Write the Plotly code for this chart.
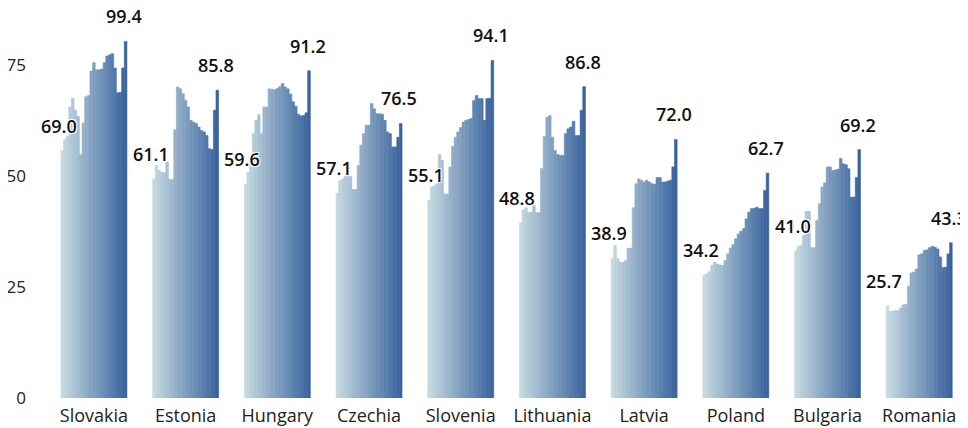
# bar profile per country, one bar per year, with start / end values labelled
import plotly.graph_objects as go

countries = ["Slovakia", "Estonia", "Hungary", "Czechia", "Slovenia",
             "Lithuania", "Latvia", "Poland", "Bulgaria", "Romania"]

# bar heights (25 yearly values per country)
slovakia = [55.8, 58.3, 59.0, 65.6, 67.6, 64.9, 63.5, 54.9, 62.0, 67.9, 68.2, 73.7, 75.6,
            74.0, 74.0, 74.2, 75.6, 77.1, 77.4, 77.6, 74.4, 68.8, 68.9, 74.4, 80.4]
estonia = [49.4, 52.4, 51.3, 50.9, 50.8, 53.2, 49.3, 49.3, 60.5, 70.1, 69.7, 68.6, 67.1,
           65.6, 62.6, 62.2, 61.9, 61.1, 60.3, 60.0, 59.2, 56.2, 56.0, 64.9, 69.4]
hungary = [48.2, 50.9, 52.8, 59.6, 62.6, 63.9, 59.6, 65.6, 65.6, 69.7, 69.6, 69.5, 69.8,
           70.2, 70.9, 70.1, 69.7, 68.5, 66.8, 65.8, 64.0, 63.6, 63.7, 64.3, 73.8]
czechia = [46.2, 49.0, 49.4, 50.0, 50.0, 50.0, 47.0, 47.0, 52.4, 57.0, 59.6, 61.5, 61.5,
           66.4, 65.2, 64.1, 64.1, 64.0, 62.6, 60.0, 59.6, 56.6, 56.6, 58.8, 61.9]
slovenia = [44.6, 47.6, 47.8, 48.3, 54.9, 53.6, 46.0, 46.0, 52.1, 56.7, 58.8, 60.0, 61.0,
            62.2, 62.6, 62.8, 63.0, 67.1, 68.2, 67.5, 67.5, 62.6, 67.5, 67.6, 76.1]
lithuania = [39.5, 42.4, 42.9, 41.9, 41.9, 43.4, 41.8, 41.8, 51.7, 59.0, 63.3, 63.7, 58.8,
             55.8, 54.9, 54.7, 54.7, 59.6, 60.7, 61.1, 62.4, 59.2, 59.2, 64.9, 70.2]
latvia = [31.5, 34.4, 31.4, 30.6, 30.6, 31.0, 33.7, 33.8, 42.9, 48.3, 49.4, 49.1, 48.7,
          49.1, 48.7, 48.3, 48.2, 49.7, 49.7, 48.7, 48.7, 48.9, 49.1, 52.1, 58.3]
poland = [27.7, 28.0, 28.5, 29.9, 30.6, 30.2, 30.0, 29.9, 31.0, 32.5, 33.8, 34.6, 35.9,
          37.0, 37.6, 38.2, 40.4, 41.9, 42.7, 42.8, 43.0, 42.7, 42.7, 46.8, 50.7]
bulgaria = [33.2, 34.2, 34.4, 36.7, 42.1, 42.1, 33.9, 33.9, 40.0, 43.8, 47.6, 48.5, 52.1,
            52.1, 51.3, 51.4, 51.6, 54.0, 52.8, 52.6, 51.7, 45.3, 45.3, 49.7, 56.0]
romania = [20.8, 19.5, 19.6, 19.7, 19.7, 20.3, 21.0, 21.1, 25.2, 28.2, 28.4, 29.1, 32.3,
           32.5, 33.3, 33.4, 33.9, 34.2, 34.0, 33.6, 31.8, 29.4, 29.5, 32.5, 35.0]

series = [slovakia, estonia, hungary, czechia, slovenia,
          lithuania, latvia, poland, bulgaria, romania]

# labels printed above the first and last bar of each country
first_labels = ["69.0", "61.1", "59.6", "57.1", "55.1", "48.8", "38.9", "34.2", "41.0", "25.7"]
last_labels = ["99.4", "85.8", "91.2", "76.5", "94.1", "86.8", "72.0", "62.7", "69.2", "43.3"]

y_ticks = [0, 25, 50, 75]

FONT = "Open Sans"
n_years = len(slovakia)
light = (198, 218, 225)
dark = (58, 99, 158)


def shade(k):
    t = k / (n_years - 1)
    r, g, b = (round(a + (b - a) * t) for a, b in zip(light, dark))
    return f"rgb({r},{g},{b})"


fig = go.Figure()
for k in range(n_years):
    c = shade(k)
    # thin outline in the fill colour closes the hairline gaps between bars
    fig.add_trace(go.Bar(x=countries, y=[s[k] for s in series],
                         marker=dict(color=c, line=dict(width=0.6, color=c)),
                         showlegend=False, hoverinfo="x+y"))

# value labels: first bar (left) and last bar (right) of every group
group_w = 0.72
halo = "1px 1px 1px white, -1px -1px 1px white, 1px -1px 1px white, -1px 1px 1px white"
label_font = dict(family=FONT, size=18, color="#111", weight=600, shadow=halo)
for i, s in enumerate(series):
    fig.add_annotation(x=i - group_w / 2, y=s[0], text=first_labels[i], showarrow=False,
                       xshift=-2, yshift=25, xanchor="center", yanchor="middle",
                       font=label_font)
    fig.add_annotation(x=i + group_w / 2 - group_w / n_years / 2, y=s[-1], text=last_labels[i],
                       showarrow=False, xshift=-1.5, yshift=25, xanchor="center", yanchor="middle",
                       font=label_font)

# the page body adds an 8px margin, so the figure sits 8px in from the window corner
fig.update_layout(
    width=960, height=420,
    margin=dict(l=22, r=10, t=13, b=30),
    plot_bgcolor="white", paper_bgcolor="white",
    barmode="group", bargap=0.28, bargroupgap=0,
    font=dict(family=FONT, size=17, color="#222"),
)
fig.update_xaxes(range=[-0.697, 9.423], showgrid=False, showline=False, zeroline=False,
                 automargin=False, ticks="outside", ticklen=1, tickcolor="rgba(0,0,0,0)",
                 tickfont=dict(family=FONT, size=18, color="#222"))
fig.update_yaxes(range=[0, 85], tickvals=y_ticks, showgrid=False, showline=False,
                 zeroline=False, automargin=False, ticklabelstandoff=3,
                 tickfont=dict(family=FONT, size=17, color="#222"))

fig.write_html("out.html")
